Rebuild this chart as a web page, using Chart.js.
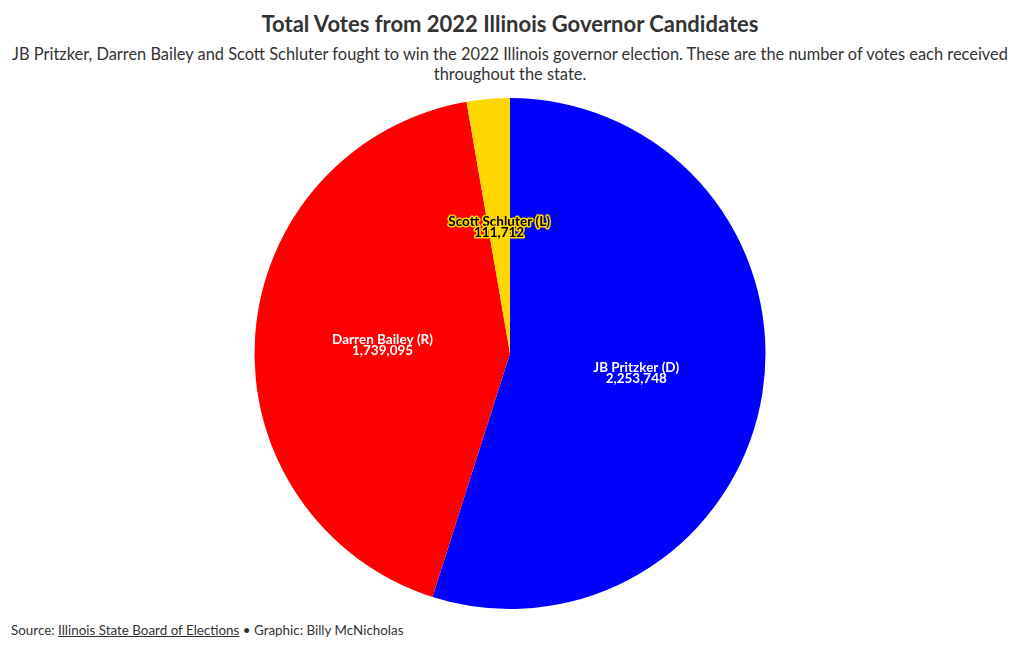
<!DOCTYPE html>
<html>
<head>
<meta charset="utf-8">
<script src="https://cdn.jsdelivr.net/npm/chart.js@4"></script>
<style>
  body { margin: 0; width: 1020px; height: 650px; background: #fff; font-family: "Source Sans Pro", Lato, sans-serif; color: #333; position: relative; overflow: hidden; }
  #title { position: absolute; top: 10px; left: 0; width: 1020px; text-align: center; font-weight: bold; font-size: 22px; }
  #subtitle { position: absolute; top: 44px; left: 0; width: 1020px; text-align: center; font-size: 16.4px; line-height: 20px; }
  #wrap { position: absolute; top: 98px; left: 0; width: 1020px; height: 511px; }
  #footer { position: absolute; top: 622px; left: 11px; font-size: 13.4px; }
  #footer u { text-decoration: underline; }
</style>
</head>
<body>
<div id="title">Total Votes from 2022 Illinois Governor Candidates</div>
<div id="subtitle">JB Pritzker, Darren Bailey and Scott Schluter fought to win the 2022 Illinois governor election. These are the number of votes each received<br>throughout the state.</div>
<div id="wrap"><canvas id="pie"></canvas></div>
<div id="footer">Source: <u>Illinois State Board of Elections</u> • Graphic: Billy McNicholas</div>
<script>
const candidates = ['JB Pritzker (D)', 'Darren Bailey (R)', 'Scott Schluter (L)'];
const votes = [2253748, 1739095, 111712];
const sliceColors = ['#0000ff', '#ff0000', '#ffd700'];
const labelColors = ['#ffffff', '#ffffff', '#000000'];

// draws name + vote count in the middle of each slice
const sliceLabels = {
  id: 'sliceLabels',
  afterDatasetsDraw(chart) {
    const ctx = chart.ctx;
    const arcs = chart.getDatasetMeta(0).data;
    ctx.save();
    ctx.font = 'bold 13.5px "Source Sans Pro", Lato, sans-serif';
    ctx.textAlign = 'center';
    ctx.textBaseline = 'middle';
    arcs.forEach((arc, i) => {
      const p = arc.tooltipPosition();
      const lines = [candidates[i], votes[i].toLocaleString('en-US')];
      lines.forEach((t, j) => {
        const y = p.y - 5 + j * 11;
        if (i === 2) {
          ctx.lineWidth = 3;
          ctx.strokeStyle = '#ffd700';
          ctx.lineJoin = 'round';
          ctx.strokeText(t, p.x, y);
        }
        ctx.fillStyle = labelColors[i];
        ctx.fillText(t, p.x, y);
      });
    });
    ctx.restore();
  }
};

new Chart(document.getElementById('pie'), {
  type: 'pie',
  data: {
    labels: candidates,
    datasets: [{
      data: votes,
      backgroundColor: sliceColors,
      borderWidth: 0
    }]
  },
  options: {
    responsive: true,
    maintainAspectRatio: false,
    animation: false,
    layout: { padding: 0 },
    plugins: {
      legend: { display: false },
      tooltip: { enabled: false }
    }
  },
  plugins: [sliceLabels]
});
</script>
</body>
</html>
